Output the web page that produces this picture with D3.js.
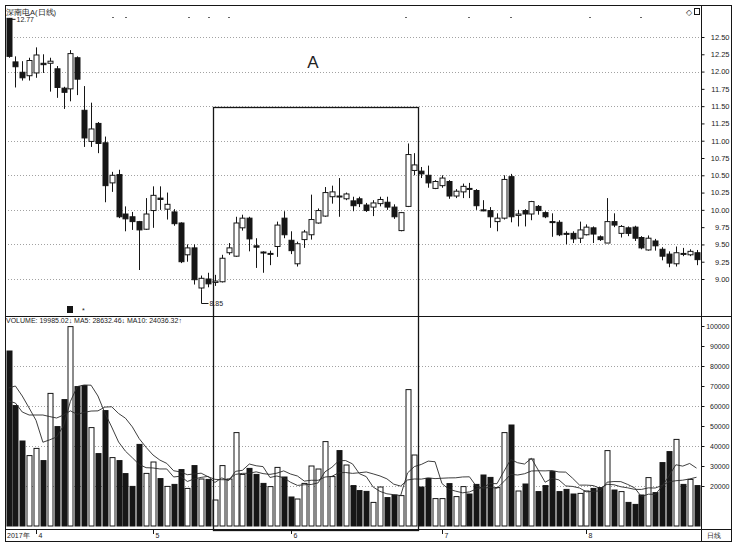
<!DOCTYPE html>
<html><head><meta charset="utf-8">
<script src="https://cdn.jsdelivr.net/npm/d3@7"></script>
<style>
body{margin:0;background:#fff}
svg{display:block}
text{font-family:"Liberation Sans",Arial,sans-serif;fill:#222}
</style>
</head><body>
<svg id="c" width="738" height="545"></svg>
<script>
// ---- data ----
const opens  = [12.77,12.14,11.99,11.94,11.98,12.12,12.12,12.04,11.76,11.75,12.20,11.44,10.99,11.25,10.97,10.39,10.51,9.94,9.90,9.83,9.72,9.99,10.17,10.01,9.97,9.81,9.35,9.45,8.87,9.00,8.95,8.96,9.38,9.33,9.74,9.88,9.48,9.39,9.36,9.47,9.88,9.56,9.22,9.57,9.64,9.81,9.91,10.19,10.20,10.16,10.13,10.16,10.07,10.04,10.09,10.11,10.04,9.70,10.05,10.57,10.56,10.50,10.31,10.35,10.41,10.20,10.26,10.31,10.28,10.00,9.99,9.83,9.88,10.48,9.92,9.99,9.94,10.05,9.96,9.83,9.82,9.66,9.66,9.59,9.64,9.74,9.61,9.52,9.83,9.66,9.74,9.75,9.60,9.42,9.55,9.43,9.36,9.22,9.37,9.35,9.38];
const highs  = [12.77,12.22,12.15,12.20,12.35,12.25,12.20,12.08,11.78,12.31,12.22,11.79,11.55,11.27,11.06,10.55,10.58,10.05,9.97,9.84,10.17,10.34,10.34,10.25,10.01,9.82,9.50,9.50,9.05,9.09,9.06,9.35,9.52,9.90,9.93,9.90,9.59,9.40,9.41,9.83,9.98,9.69,9.54,9.71,10.22,10.02,10.33,10.35,10.46,10.25,10.19,10.19,10.10,10.14,10.19,10.19,10.08,9.97,10.96,10.82,10.62,10.64,10.43,10.50,10.43,10.30,10.38,10.39,10.30,10.14,10.04,9.95,10.50,10.52,10.00,10.01,10.13,10.07,9.98,9.95,9.85,9.69,9.69,9.83,9.79,9.76,9.63,10.17,9.95,9.78,9.76,9.77,9.62,9.63,9.58,9.46,9.40,9.47,9.45,9.43,9.42];
const lows   = [12.20,11.77,11.87,11.87,11.91,11.98,11.71,11.62,11.46,11.57,11.66,10.91,10.91,10.82,10.11,10.26,9.88,9.69,9.71,9.13,9.71,9.74,10.00,9.86,9.77,9.23,9.25,8.92,8.85,8.88,8.90,8.95,9.35,9.32,9.70,9.40,9.16,9.09,9.20,9.32,9.59,9.36,9.18,9.45,9.57,9.80,9.90,10.09,9.90,10.14,9.98,10.04,9.97,9.91,10.05,10.00,9.87,9.69,10.04,10.50,10.46,10.32,10.30,10.32,10.16,10.17,10.17,10.17,10.00,9.98,9.74,9.69,9.86,9.82,9.76,9.76,9.85,9.93,9.88,9.61,9.62,9.50,9.52,9.52,9.63,9.52,9.55,9.52,9.75,9.60,9.62,9.55,9.43,9.41,9.41,9.27,9.17,9.18,9.33,9.33,9.20];
const closes = [12.22,12.07,11.91,12.16,12.24,12.10,12.15,11.77,11.70,12.26,11.89,11.04,11.17,10.96,10.35,10.50,9.90,9.87,9.83,9.71,9.94,10.21,10.15,10.08,9.80,9.25,9.45,8.99,9.01,8.93,8.97,9.30,9.45,9.81,9.88,9.58,9.46,9.38,9.37,9.78,9.64,9.41,9.51,9.68,9.86,9.99,10.25,10.26,10.19,10.23,10.06,10.09,9.99,10.10,10.15,10.04,9.90,9.96,10.80,10.65,10.52,10.39,10.41,10.46,10.20,10.27,10.34,10.30,10.06,9.99,9.90,9.88,10.44,9.90,9.94,9.94,10.12,9.99,9.90,9.82,9.64,9.65,9.58,9.71,9.75,9.65,9.57,9.83,9.78,9.76,9.66,9.59,9.45,9.59,9.48,9.33,9.23,9.38,9.36,9.40,9.28];
const volumes = [87500,60200,42500,35200,38800,32700,66300,49700,63200,99700,69700,70200,49200,36200,57700,34200,32700,26200,19800,40800,26300,32000,23700,19800,20800,28200,18800,30200,23500,23300,13000,30200,23500,46700,25800,28800,25800,21300,19700,29300,24500,14500,13500,21300,30000,28500,42200,24700,37700,30500,20200,17700,17300,11800,19500,14200,15500,15200,68200,35500,19500,23800,13700,13700,21200,14700,19700,16000,20800,25500,24300,19200,46700,50500,17500,21000,33500,17200,20200,27200,17200,18300,16000,16300,17500,18800,19200,37700,18000,17200,11800,10800,15500,24200,16700,31700,37200,43300,20800,23300,20200];
// moving-average values before a full window exists
const ma5Lead  = [69000,70000,65000,59000];
const ma10Lead = [62500,61500,57000,55500,55500,55500,54700,54000,55500];
const priceTicks = [9.00,9.25,9.50,9.75,10.00,10.25,10.50,10.75,11.00,11.25,11.50,11.75,12.00,12.25,12.50];
const priceGrid  = [9.0,9.5,10.0,10.5,11.0,11.5,12.0,12.5];
const volTicks   = [20000,30000,40000,50000,60000,70000,80000,90000,100000];
const volGrid    = [20000,40000,60000,80000];
const monthIdx    = [4,21,41,63,84];
const monthLabels = ["4","5","6","7","8"];
const yearLabel = "2017年";
const title = "深南电A(日线)";

// ---- layout ----
const L=5, R=701, RR=731, T=5, PB=316, VB=529, BB=541;
const N = opens.length;
const svg = d3.select("#c");
const x  = d3.scaleLinear().domain([0, N-1]).range([8.5, 696.5]);
const yP = d3.scaleLinear().domain([9, 12.5]).range([279, 37]);
const yV = d3.scaleLinear().domain([0, 100000]).range([526, 326]);
const ink = "#161616";

// grid
const grid = svg.append("g").attr("stroke","#8a8a8a").attr("stroke-dasharray","1,2").attr("stroke-width",0.8);
priceGrid.forEach(v=>grid.append("line").attr("x1",L).attr("x2",R).attr("y1",Math.round(yP(v))+0.5).attr("y2",Math.round(yP(v))+0.5));
volGrid.forEach(v=>grid.append("line").attr("x1",L).attr("x2",R).attr("y1",Math.round(yV(v))+0.5).attr("y2",Math.round(yV(v))+0.5));

// candles
const bw = 5;
const cg = svg.append("g");
d3.range(N).forEach(i=>{
  const xc = Math.round(x(i))+0.5;
  const up = closes[i] >= opens[i];
  cg.append("line").attr("x1",xc).attr("x2",xc).attr("y1",yP(highs[i])).attr("y2",yP(lows[i])).attr("stroke",ink).attr("stroke-width",1);
  const yt = yP(Math.max(opens[i],closes[i])), yb = yP(Math.min(opens[i],closes[i]));
  const h = Math.max(1, yb-yt);
  cg.append("rect").attr("x",xc-bw/2).attr("y",yt).attr("width",bw).attr("height",h)
    .attr("fill", up ? "#fff" : ink).attr("stroke",ink).attr("stroke-width",1);
});

// volume bars
const vg = svg.append("g");
d3.range(N).forEach(i=>{
  const xc = Math.round(x(i))+0.5;
  const up = closes[i] >= opens[i];
  const yt = yV(volumes[i]);
  vg.append("rect").attr("x",xc-bw/2).attr("y",yt).attr("width",bw).attr("height",yV(0)-yt)
    .attr("fill", up ? "#fff" : ink).attr("stroke",ink).attr("stroke-width",1);
});

// moving averages
function ma(n, lead){
  return d3.range(N).map(i => i < lead.length ? lead[i] : d3.mean(volumes.slice(i-n+1, i+1)));
}
const ma5 = ma(5, ma5Lead), ma10 = ma(10, ma10Lead);
const line = d3.line().x((d,i)=>x(i)).y(d=>yV(d));
[ma5, ma10].forEach(s=>svg.append("path").attr("d",line(s)).attr("fill","none").attr("stroke","#2a2a2a").attr("stroke-width",0.9));

// frame
const fr = svg.append("g").attr("stroke",ink).attr("fill","none").attr("stroke-width",1);
fr.append("rect").attr("x",L+0.5).attr("y",T+0.5).attr("width",RR-L).attr("height",BB-T);
fr.append("line").attr("x1",R+0.5).attr("x2",R+0.5).attr("y1",T).attr("y2",BB);
fr.append("line").attr("x1",L).attr("x2",RR).attr("y1",PB+0.5).attr("y2",PB+0.5);
fr.append("line").attr("x1",L).attr("x2",RR).attr("y1",VB+0.5).attr("y2",VB+0.5);

// axes
const pa = svg.append("g").attr("transform",`translate(${R+0.5},0)`)
  .call(d3.axisRight(yP).tickValues(priceTicks).tickSize(3).tickFormat(d3.format(".2f")));
const va = svg.append("g").attr("transform",`translate(${R+0.5},0)`)
  .call(d3.axisRight(yV).tickValues(volTicks).tickSize(3).tickFormat(d3.format("d")));
[pa,va].forEach(a=>{
  a.select(".domain").remove();
  a.selectAll("line").attr("stroke",ink);
  a.selectAll("text").attr("x",28).attr("text-anchor","end").attr("font-size", a===pa?7.5:7).attr("fill","#222");
});

// date band
svg.append("text").attr("x",7).attr("y",538).attr("font-size",7).text(yearLabel);
monthIdx.forEach((m,k)=>{
  const xm = Math.round(x(m))+0.5;
  svg.append("line").attr("x1",xm).attr("x2",xm).attr("y1",VB).attr("y2",VB+5).attr("stroke",ink);
  svg.append("text").attr("x",xm+2).attr("y",538).attr("font-size",7).text(monthLabels[k]);
});
svg.append("text").attr("x",707).attr("y",538).attr("font-size",7).attr("font-family","Noto Sans CJK SC").text("日线");

// headers
svg.append("text").attr("x",6).attr("y",15).attr("font-size",7.5).attr("font-family","Noto Sans CJK SC").text(title);
const fmt2 = d3.format(".2f");
const vLast = volumes[N-1];
const hdr = `VOLUME: ${fmt2(19985.02)}↓  MA5: ${fmt2(28632.46)}↓  MA10: ${fmt2(24036.32)}↑`;
svg.append("text").attr("x",6).attr("y",323).attr("font-size",7).text(hdr);

// extreme markers
const hx = Math.round(x(0))+0.5, hy = yP(highs[0]);
svg.append("line").attr("x1",hx).attr("x2",hx+6).attr("y1",hy+1).attr("y2",hy+1).attr("stroke",ink);
svg.append("text").attr("x",hx+7).attr("y",hy+4).attr("font-size",7).text(fmt2(d3.max(highs)));
const li = d3.minIndex(lows), lx = Math.round(x(li))+0.5, ly = yP(lows[li]);
svg.append("line").attr("x1",lx).attr("x2",lx).attr("y1",ly).attr("y2",303.5).attr("stroke",ink);
svg.append("line").attr("x1",lx).attr("x2",lx+7).attr("y1",303.5).attr("y2",303.5).attr("stroke",ink);
svg.append("text").attr("x",lx+8).attr("y",306).attr("font-size",7).text(fmt2(d3.min(lows)));

// small marks
svg.append("rect").attr("x",67).attr("y",306).attr("width",6).attr("height",7).attr("fill",ink);
svg.append("text").attr("x",82).attr("y",313).attr("font-size",7).text("*");
[112,125,188,208,228,405,468,510,589,640].forEach(px=>svg.append("line").attr("x1",px).attr("x2",px+2).attr("y1",17.5).attr("y2",17.5).attr("stroke","#666"));
svg.append("text").attr("x",686).attr("y",15).attr("font-size",8).text("◇");
svg.append("rect").attr("x",694.5).attr("y",8.5).attr("width",5).attr("height",6).attr("fill","none").attr("stroke",ink);

// highlight box and label
svg.append("rect").attr("x",213.5).attr("y",107.5).attr("width",205).attr("height",423).attr("fill","none").attr("stroke",ink).attr("stroke-width",1.3);
svg.append("text").attr("x",313).attr("y",68).attr("text-anchor","middle").attr("font-size",17).attr("font-family","Liberation Serif, serif").text("A");
</script>
</body></html>
